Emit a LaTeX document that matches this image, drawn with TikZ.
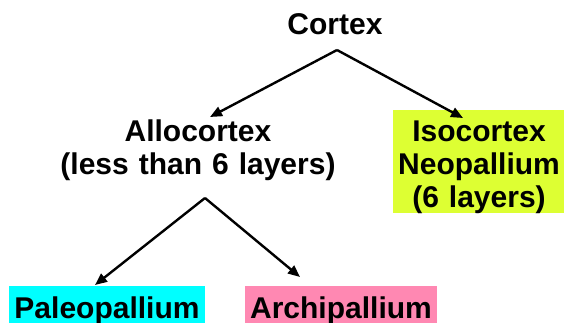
\documentclass[tikz,border=0pt]{standalone}
\usepackage{fontspec}
\setmainfont{Liberation Sans}
\usetikzlibrary{arrows.meta}
\definecolor{isoyellow}{RGB}{221,255,51}
\definecolor{paleocyan}{RGB}{0,255,255}
\definecolor{archipink}{RGB}{255,136,178}
\tikzset{
  lbl/.style={font=\bfseries\fontsize{30}{33}\selectfont, inner sep=0pt, text=black},
  multi/.style={lbl, align=center, text width=#1},
  leafbox/.style={lbl, minimum height=48pt, text height=22pt, text depth=6pt, fill=#1},
  arr/.style={line width=2.4pt, -{Triangle[length=12pt,width=10pt]}}
}
\begin{document}
\begin{tikzpicture}[x=1pt,y=-1pt]
\useasboundingbox (0,0) rectangle (564,323);
\clip (0,0) rectangle (564,323);
\node[lbl, anchor=base] (cortex) at (335,35) {Cortex};
\node[multi=300pt, anchor=base] (allo) at (198,142) {Allocortex\\(less than 6 layers)};
\node[multi=172pt, anchor=base, fill=isoyellow, text height=32pt, text depth=71pt] (iso) at (479,142) {Isocortex\\Neopallium\\(6 layers)};
\node[leafbox=paleocyan, minimum width=196pt] (paleo) at (107,310) {Paleopallium};
\node[leafbox=archipink, minimum width=192pt] (archi) at (341,310) {Archipallium};
\coordinate (capex) at (337,50);
\coordinate (aapex) at (205,198);
\coordinate (allotip) at (210,117);
\coordinate (isotip) at (463,118);
\coordinate (paleotip) at (95,285);
\coordinate (architip) at (300,277);
\draw[arr] (capex) -- (allotip);
\draw[arr] (capex) -- (isotip);
\draw[arr] (aapex) -- (paleotip);
\draw[arr] (aapex) -- (architip);
\end{tikzpicture}
\end{document}
